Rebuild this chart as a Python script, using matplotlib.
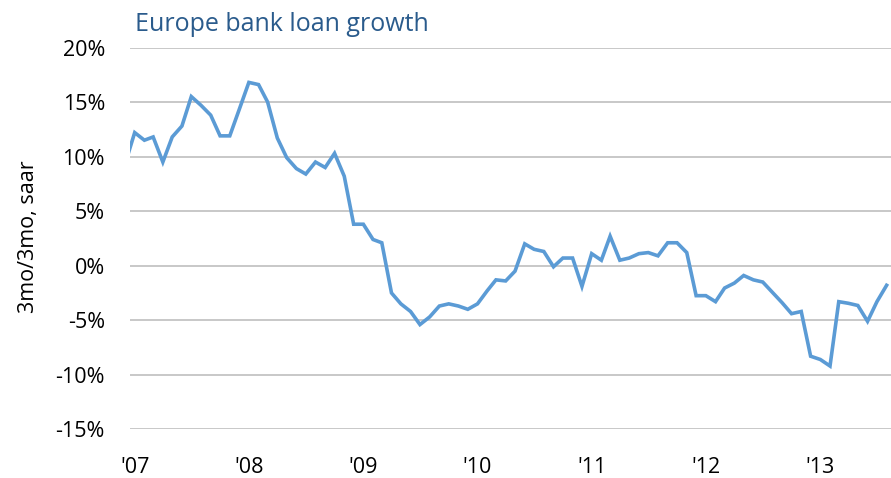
import matplotlib
matplotlib.use("Agg")
import matplotlib.pyplot as plt
import pandas as pd

# Monthly observations, Dec 2006 .. Aug 2013 (3-month over 3-month, seasonally adjusted annual rate, %)
months = pd.date_range("2006-12-01", "2013-08-01", freq="MS")
loan_growth = [
    9.3,
    12.2, 11.5, 11.8, 9.5, 11.8, 12.8, 15.5, 14.7, 13.8, 11.9, 11.9, 14.3,     # 2007
    16.8, 16.6, 15.0, 11.7, 9.9, 8.9, 8.4, 9.5, 9.0, 10.3, 8.2, 3.8,           # 2008
    3.8, 2.4, 2.1, -2.5, -3.5, -4.2, -5.4, -4.7, -3.7, -3.5, -3.7, -4.0,       # 2009
    -3.5, -2.3, -1.3, -1.4, -0.5, 2.0, 1.5, 1.3, -0.1, 0.7, 0.7, -1.9,         # 2010
    1.1, 0.5, 2.7, 0.5, 0.7, 1.1, 1.2, 0.9, 2.1, 2.1, 1.2, -2.75,              # 2011
    -2.75, -3.3, -2.05, -1.6, -0.9, -1.3, -1.5, -2.45, -3.4, -4.4, -4.2, -8.3, # 2012
    -8.6, -9.2, -3.3, -3.45, -3.65, -5.1, -3.3, -1.8,                          # 2013
]

year_ticks = pd.date_range("2007-01-01", "2013-01-01", freq="YS")
year_labels = ["'07", "'08", "'09", "'10", "'11", "'12", "'13"]
y_ticks = [20, 15, 10, 5, 0, -5, -10, -15]
y_labels = [f"{v}%" for v in y_ticks]

title = "Europe bank loan growth"
y_title = "3mo/3mo, saar"

plt.rcParams["font.family"] = ["Open Sans", "DejaVu Sans"]

W, H = 891, 478
fig = plt.figure(figsize=(W / 100, H / 100), dpi=100)
ax = fig.add_axes([130 / W, (H - 429.3) / H, 761 / W, (429.3 - 47.5) / H])

ax.plot(months, loan_growth, color="#5B9BD5", linewidth=2.6,
        solid_joinstyle="miter", zorder=3)

ax.set_ylim(-15, 20)
ax.set_xlim(pd.Timestamp("2006-12-17"), pd.Timestamp("2013-08-15"))

ax.set_yticks(y_ticks)
ax.set_yticklabels(y_labels)
ax.set_xticks(year_ticks)
ax.set_xticklabels(year_labels)

ax.grid(axis="y", color="#BFBFBF", linewidth=1.2, zorder=1)
ax.grid(axis="x", visible=False)
for s in ax.spines.values():
    s.set_visible(False)

ax.tick_params(axis="both", length=0, labelsize=15.5, colors="#000000")
ax.tick_params(axis="y", pad=18)
ax.tick_params(axis="x", pad=20)

# vertical axis title
fig.text(29 / W, 1 - 237 / H, y_title, fontsize=15.5, color="#000000",
         rotation=90, ha="center", va="center")

fig.text(135 / W, 1 - 31 / H, title, fontsize=18, color="#2A5B8C",
         ha="left", va="baseline")

fig.savefig("out.png", dpi=100, facecolor="white")
